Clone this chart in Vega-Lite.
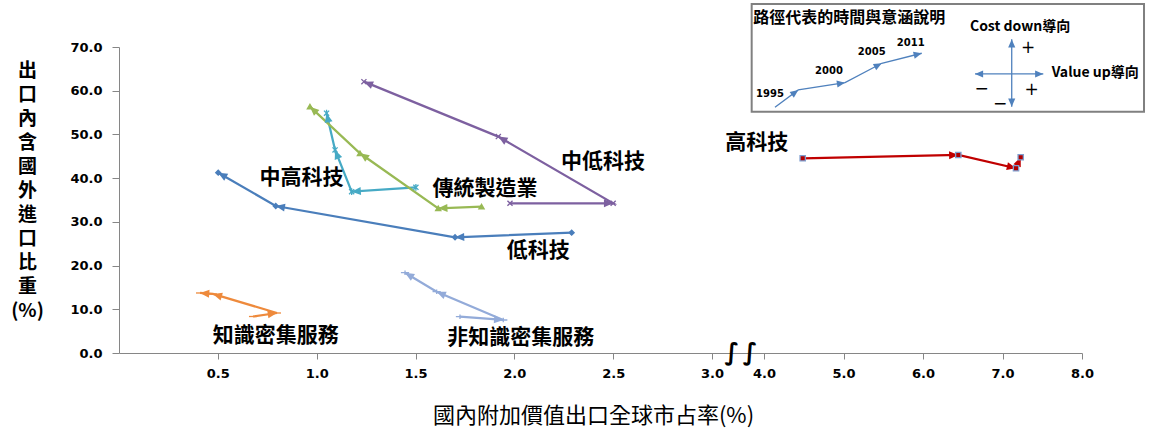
{
  "$schema": "https://vega.github.io/schema/vega-lite/v6.json",
  "width": 963,
  "height": 306,
  "autosize": {"type": "none"},
  "padding": {"left": 119, "top": 47, "right": 77, "bottom": 83},
  "background": "white",
  "config": {"view": {"stroke": null}},
  "datasets": {
    "series": [
      {"series": "低科技", "year": 1995, "x": 2.29, "y": 27.52},
      {"series": "低科技", "year": 2000, "x": 1.70, "y": 26.47},
      {"series": "低科技", "year": 2005, "x": 0.793, "y": 33.63},
      {"series": "低科技", "year": 2011, "x": 0.502, "y": 41.25},
      {"series": "中低科技", "year": 1995, "x": 1.978, "y": 34.25},
      {"series": "中低科技", "year": 2000, "x": 2.50, "y": 34.25},
      {"series": "中低科技", "year": 2005, "x": 1.919, "y": 49.5},
      {"series": "中低科技", "year": 2011, "x": 1.239, "y": 62.07},
      {"series": "中高科技", "year": 1995, "x": 1.502, "y": 37.9},
      {"series": "中高科技", "year": 2000, "x": 1.177, "y": 36.9},
      {"series": "中高科技", "year": 2005, "x": 1.093, "y": 46.45},
      {"series": "中高科技", "year": 2011, "x": 1.050, "y": 54.85},
      {"series": "傳統製造業", "year": 1995, "x": 1.834, "y": 33.47},
      {"series": "傳統製造業", "year": 2000, "x": 1.615, "y": 33.1},
      {"series": "傳統製造業", "year": 2005, "x": 1.219, "y": 45.69},
      {"series": "傳統製造業", "year": 2011, "x": 0.966, "y": 56.35},
      {"series": "高科技", "year": 1995, "x": 4.487, "y": 44.54},
      {"series": "高科技", "year": 2000, "x": 6.444, "y": 45.3},
      {"series": "高科技", "year": 2005, "x": 7.17, "y": 42.26},
      {"series": "高科技", "year": 2011, "x": 7.229, "y": 44.78},
      {"series": "知識密集服務", "year": 1995, "x": 0.678, "y": 8.35},
      {"series": "知識密集服務", "year": 2000, "x": 0.799, "y": 9.15},
      {"series": "知識密集服務", "year": 2005, "x": 0.475, "y": 13.5},
      {"series": "知識密集服務", "year": 2011, "x": 0.41, "y": 13.73},
      {"series": "非知識密集服務", "year": 1995, "x": 1.725, "y": 8.30},
      {"series": "非知識密集服務", "year": 2000, "x": 1.944, "y": 7.55},
      {"series": "非知識密集服務", "year": 2005, "x": 1.607, "y": 14.02},
      {"series": "非知識密集服務", "year": 2011, "x": 1.447, "y": 18.37}
    ],
    "lp": [
      {"g": "p", "ord": 1, "x": 4.138, "y": 56.21},
      {"g": "p", "ord": 2, "x": 4.431, "y": 60.17},
      {"g": "p", "ord": 3, "x": 5.019, "y": 61.84},
      {"g": "p", "ord": 4, "x": 5.481, "y": 66.28},
      {"g": "p", "ord": 5, "x": 5.984, "y": 68.57},
      {"g": "up", "ord": 1, "x": 7.116, "y": 63.83},
      {"g": "up", "ord": 2, "x": 7.116, "y": 71.77},
      {"g": "down", "ord": 1, "x": 7.116, "y": 63.83},
      {"g": "down", "ord": 2, "x": 7.116, "y": 56.35},
      {"g": "left", "ord": 1, "x": 7.116, "y": 63.83},
      {"g": "left", "ord": 2, "x": 6.654, "y": 63.83},
      {"g": "right", "ord": 1, "x": 7.116, "y": 63.83},
      {"g": "right", "ord": 2, "x": 7.513, "y": 63.83}
    ],
    "box": [{"x": 3.763, "x2": 8.78, "y": 55.2, "y2": 79.84}],
    "txt": [
      {"kind": "series", "label": "中高科技", "x": 0.923, "y": 40.04},
      {"kind": "series", "label": "傳統製造業", "x": 1.851, "y": 37.52},
      {"kind": "series", "label": "中低科技", "x": 2.448, "y": 43.77},
      {"kind": "series", "label": "低科技", "x": 2.121, "y": 23.4},
      {"kind": "series", "label": "知識密集服務", "x": 0.793, "y": 3.89},
      {"kind": "series", "label": "非知識密集服務", "x": 2.032, "y": 3.36},
      {"kind": "series", "label": "高科技", "x": 3.86, "y": 47.97},
      {"kind": "year", "label": "1995", "x": 4.075, "y": 59.19},
      {"kind": "year", "label": "2000", "x": 4.818, "y": 64.59},
      {"kind": "year", "label": "2005", "x": 5.355, "y": 68.93},
      {"kind": "year", "label": "2011", "x": 5.846, "y": 70.85},
      {"kind": "title", "label": "路徑代表的時間與意涵說明", "x": 3.794, "y": 76.57},
      {"kind": "dir", "label": "Cost down導向", "x": 6.591, "y": 74.65},
      {"kind": "dir", "label": "Value up導向", "x": 7.619, "y": 64.13},
      {"kind": "sign", "label": "+", "x": 7.321, "y": 69.78},
      {"kind": "sign", "label": "+", "x": 7.367, "y": 60.17},
      {"kind": "sign", "label": "−", "x": 6.738, "y": 60.33},
      {"kind": "sign", "label": "−", "x": 6.969, "y": 56.96},
      {"kind": "break", "label": "∫", "x": 3.379, "y": 0},
      {"kind": "break", "label": "∫", "x": 3.731, "y": 0}
    ]
  },
  "encoding": {
    "x": {
      "field": "x", "type": "quantitative",
      "scale": {"domain": [0, 3, 4, 8], "range": [0, 593, 645, 963], "nice": false, "zero": false},
      "axis": {
        "values": [0.5, 1, 1.5, 2, 2.5, 3, 4, 5, 6, 7, 8],
        "format": ".1f", "grid": false, "labelOverlap": false, "labelFlush": false,
        "domainColor": "#868686", "tickColor": "#868686", "tickSize": 6,
        "labelFont": "DejaVu Sans", "labelFontWeight": "bold", "labelFontSize": 13, "labelColor": "#000000", "labelPadding": 8,
        "title": "國內附加價值出口全球市占率(%)",
        "titleFont": "Noto Sans CJK TC", "titleFontSize": 22, "titleFontWeight": "normal", "titleColor": "#000000",
        "titleX": 474, "titleY": 62, "titleBaseline": "middle", "titleAlign": "center"
      }
    },
    "y": {
      "field": "y", "type": "quantitative",
      "scale": {"domain": [0, 70], "nice": false, "zero": false},
      "axis": {
        "values": [0, 10, 20, 30, 40, 50, 60, 70],
        "format": ".1f", "grid": false,
        "domainColor": "#868686", "tickColor": "#868686", "tickSize": 7,
        "labelFont": "DejaVu Sans", "labelFontWeight": "bold", "labelFontSize": 13, "labelColor": "#000000", "labelPadding": 10,
        "title": ["出", "口", "內", "含", "國", "外", "進", "口", "比", "重", "(%)"],
        "titleFont": "Noto Sans CJK TC", "titleFontSize": 19, "titleFontWeight": "bold", "titleColor": "#000000",
        "titleAngle": 0, "titleX": -92, "titleY": 14, "titleAlign": "center", "titleBaseline": "top", "titleLineHeight": 24
      }
    }
  },
  "layer": [
    {
      "data": {"name": "box"},
      "mark": {"type": "rect", "fill": "white", "stroke": "#808080", "strokeWidth": 2},
      "encoding": {"x2": {"field": "x2"}, "y2": {"field": "y2"}}
    },
    {
      "data": {"name": "lp"},
      "mark": {"type": "line", "color": "#4F81BD", "strokeWidth": 1.3},
      "encoding": {"detail": {"field": "g"}, "order": {"field": "ord"}}
    },
    {
      "data": {"name": "lp"},
      "transform": [
        {"window": [{"op": "lag", "field": "x", "as": "px"}, {"op": "lag", "field": "y", "as": "py"}], "groupby": ["g"], "sort": [{"field": "ord"}]},
        {"filter": "datum.px != null"},
        {"calculate": "atan2((datum.x-datum.px)*(datum.x>=3.5?79.5:197.7), (datum.y-datum.py)*4.371)*180/PI", "as": "ang"}
      ],
      "mark": {"type": "point", "shape": "M0,0L-1,2.3L1,2.3Z", "filled": true, "color": "#4F81BD", "size": 50, "opacity": 1},
      "encoding": {"angle": {"field": "ang", "type": "quantitative", "scale": null}}
    },
    {
      "data": {"name": "txt"},
      "transform": [{"filter": "datum.kind == 'title'"}],
      "mark": {"type": "text", "font": "Noto Sans CJK TC", "fontWeight": "bold", "fontSize": 16, "align": "left", "baseline": "middle", "color": "#000000"},
      "encoding": {"text": {"field": "label"}}
    },
    {
      "data": {"name": "txt"},
      "transform": [{"filter": "datum.kind == 'year'"}],
      "mark": {"type": "text", "font": "DejaVu Sans", "fontWeight": "bold", "fontSize": 10, "align": "center", "baseline": "middle", "color": "#000000"},
      "encoding": {"text": {"field": "label"}}
    },
    {
      "data": {"name": "txt"},
      "transform": [{"filter": "datum.kind == 'dir'"}],
      "mark": {"type": "text", "font": "Noto Sans CJK TC", "fontWeight": "bold", "fontSize": 14, "align": "left", "baseline": "middle", "color": "#000000"},
      "encoding": {"text": {"field": "label"}}
    },
    {
      "data": {"name": "txt"},
      "transform": [{"filter": "datum.kind == 'sign'"}],
      "mark": {"type": "text", "font": "DejaVu Sans", "fontWeight": "normal", "fontSize": 17, "align": "center", "baseline": "middle", "color": "#000000"},
      "encoding": {"text": {"field": "label"}}
    },
    {
      "data": {"name": "series"},
      "mark": {"type": "line", "strokeWidth": 2.25},
      "encoding": {
        "color": {"field": "series", "type": "nominal", "legend": null,
          "scale": {"domain": ["低科技", "中低科技", "中高科技", "傳統製造業", "高科技", "知識密集服務", "非知識密集服務"],
                    "range": ["#4A7EBB", "#7D60A0", "#46AAC5", "#98B954", "#C00000", "#EE8A3C", "#93ABD9"]}},
        "detail": {"field": "series"},
        "order": {"field": "year"}
      }
    },
    {
      "data": {"name": "series"},
      "transform": [
        {"window": [{"op": "lag", "field": "x", "as": "px"}, {"op": "lag", "field": "y", "as": "py"}], "groupby": ["series"], "sort": [{"field": "year"}]},
        {"filter": "datum.px != null"},
        {"calculate": "atan2((datum.x-datum.px)*(datum.x>=3.5?79.5:197.7), (datum.y-datum.py)*4.371)*180/PI", "as": "ang"}
      ],
      "mark": {"type": "point", "shape": "M0,0L-1,2.3L1,2.3Z", "filled": true, "size": 64, "opacity": 1},
      "encoding": {
        "color": {"field": "series", "type": "nominal", "legend": null,
          "scale": {"domain": ["低科技", "中低科技", "中高科技", "傳統製造業", "高科技", "知識密集服務", "非知識密集服務"],
                    "range": ["#4A7EBB", "#7D60A0", "#46AAC5", "#98B954", "#C00000", "#EE8A3C", "#93ABD9"]}},
        "angle": {"field": "ang", "type": "quantitative", "scale": null}
      }
    },
    {
      "data": {"name": "series"},
      "mark": {"type": "point", "filled": true, "strokeWidth": 1.3, "opacity": 1},
      "encoding": {
        "shape": {"field": "series", "type": "nominal", "legend": null,
          "scale": {"domain": ["低科技", "中低科技", "中高科技", "傳統製造業", "高科技", "知識密集服務", "非知識密集服務"],
                    "range": ["diamond", "M-1,-1L1,1M-1,1L1,-1", "M-1,-1L1,1M-1,1L1,-1M0,-1.3L0,1.3", "triangle-up", "square", "M-1.5,0L1.5,0", "M-1.5,0L1.5,0M0,-0.8L0,0.8"]}},
        "fill": {"field": "series", "type": "nominal", "legend": null,
          "scale": {"domain": ["低科技", "中低科技", "中高科技", "傳統製造業", "高科技", "知識密集服務", "非知識密集服務"],
                    "range": ["#4A7EBB", "#7D60A0", "#46AAC5", "#98B954", "#B00000", "#EE8A3C", "#93ABD9"]}},
        "stroke": {"field": "series", "type": "nominal", "legend": null,
          "scale": {"domain": ["低科技", "中低科技", "中高科技", "傳統製造業", "高科技", "知識密集服務", "非知識密集服務"],
                    "range": ["#4A7EBB", "#7D60A0", "#46AAC5", "#98B954", "#7F9FD0", "#EE8A3C", "#93ABD9"]}},
        "size": {"field": "series", "type": "nominal", "legend": null,
          "scale": {"domain": ["低科技", "中低科技", "中高科技", "傳統製造業", "高科技", "知識密集服務", "非知識密集服務"],
                    "range": [25, 30, 30, 25, 45, 30, 30]}}
      }
    },
    {
      "data": {"name": "txt"},
      "transform": [{"filter": "datum.kind == 'series'"}],
      "mark": {"type": "text", "font": "Noto Sans CJK TC", "fontWeight": "bold", "fontSize": 21, "align": "center", "baseline": "middle", "color": "#000000"},
      "encoding": {"text": {"field": "label"}}
    },
    {
      "data": {"name": "txt"},
      "transform": [{"filter": "datum.kind == 'break'"}],
      "mark": {"type": "text", "font": "DejaVu Sans", "fontWeight": "bold", "fontSize": 24, "align": "center", "baseline": "middle", "color": "#000000"},
      "encoding": {"text": {"field": "label"}}
    }
  ]
}
